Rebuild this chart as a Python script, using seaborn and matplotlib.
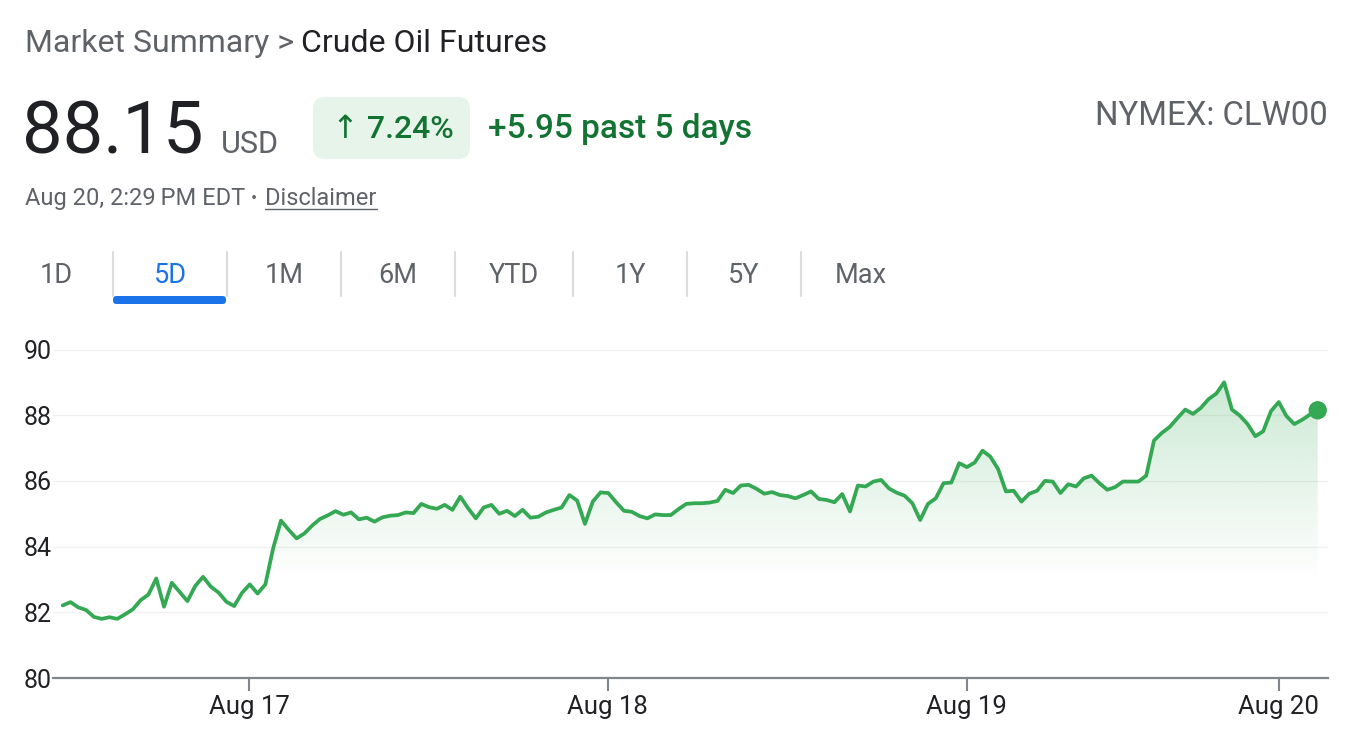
import numpy as np
import pandas as pd
import matplotlib.pyplot as plt
import seaborn as sns
from matplotlib.patches import FancyBboxPatch, PathPatch

# Données (prix toutes les ~30 min, 5 jours)
prix = [
    82.21, 82.31, 82.15, 82.07, 81.86, 81.80, 81.85, 81.80, 81.94, 82.09,
    82.37, 82.54, 83.03, 82.17, 82.90, 82.62, 82.34, 82.80, 83.08, 82.78,
    82.60, 82.32, 82.19, 82.59, 82.85, 82.57, 82.85, 83.95, 84.79, 84.51,
    84.25, 84.40, 84.64, 84.84, 84.95, 85.08, 84.97, 85.04, 84.83, 84.88,
    84.76, 84.89, 84.94, 84.96, 85.04, 85.02, 85.30, 85.20, 85.15, 85.27,
    85.12, 85.52, 85.17, 84.86, 85.19, 85.27, 85.00, 85.09, 84.93, 85.12,
    84.88, 84.91, 85.04, 85.12, 85.19, 85.57, 85.40, 84.69, 85.37, 85.65,
    85.63, 85.35, 85.09, 85.06, 84.93, 84.86, 84.98, 84.96, 84.96, 85.14,
    85.30, 85.32, 85.32, 85.34, 85.39, 85.73, 85.63, 85.86, 85.88, 85.76,
    85.61, 85.66, 85.57, 85.54, 85.47, 85.57, 85.68, 85.45, 85.42, 85.35,
    85.60, 85.07, 85.86, 85.83, 85.98, 86.03, 85.77, 85.64, 85.55, 85.32,
    84.81, 85.30, 85.47, 85.93, 85.95, 86.54, 86.42, 86.56, 86.92, 86.74,
    86.36, 85.68, 85.70, 85.37, 85.61, 85.70, 86.00, 85.98, 85.63, 85.90,
    85.83, 86.08, 86.16, 85.93, 85.73, 85.81, 85.98, 85.98, 85.98, 86.16,
    87.23, 87.46, 87.64, 87.91, 88.17, 88.04, 88.22, 88.49, 88.66, 89.00,
    88.17, 87.99, 87.73, 87.36, 87.51, 88.12, 88.40, 87.97, 87.73, 87.86,
    88.02, 88.15,
]
tick_pos = [23.9, 69.9, 116.0, 156.0]
tick_labels = ["Aug 17", "Aug 18", "Aug 19", "Aug 20"]
y_ticks = [80, 82, 84, 86, 88, 90]
onglets = ["1D", "5D", "1M", "6M", "YTD", "1Y", "5Y", "Max"]

df = pd.DataFrame({"t": np.arange(len(prix)), "prix": prix})

VERT = "#34a853"
VERT_FONCE = "#137333"
GRIS = "#5f6368"
NOIR = "#202124"
W, H = 1358, 742

sns.set_theme(style="white")
plt.rcParams["font.family"] = ["Roboto", "DejaVu Sans"]

fig = plt.figure(figsize=(W / 100, H / 100), dpi=100)
ax = fig.add_axes([53 / W, (H - 678) / H, 1275 / W, 328.5 / H])

# Courbe principale
sns.lineplot(data=df, x="t", y="prix", color=VERT, linewidth=2.7, ax=ax, zorder=3)
sns.scatterplot(x=[df.t.iloc[-1]], y=[df.prix.iloc[-1]], s=175, color=VERT,
                edgecolor="none", ax=ax, zorder=4, clip_on=False)

# Remplissage dégradé sous la courbe
ax.set_xlim(-1.244, 162.32)
ax.set_ylim(80, 90)
poly = ax.fill_between(df.t, df.prix, 80, color="none")
clip = PathPatch(poly.get_paths()[0], transform=ax.transData,
                 facecolor="none", edgecolor="none")
ax.add_patch(clip)
yy = np.linspace(90, 80, 300)
alpha = np.clip((yy - 83) / 6, 0, 1) * 0.25
img = np.zeros((300, 2, 4))
img[..., :3] = np.array([0x34, 0xa8, 0x53]) / 255
img[..., 3] = alpha[:, None]
im = ax.imshow(img, extent=[0, len(prix) - 1, 80, 90], aspect="auto", zorder=2,
               interpolation="bilinear")
im.set_clip_path(clip)
ax.set_xlim(-1.244, 162.32)
ax.set_ylim(80, 90)

# Axes et grille
ax.set_yticks(y_ticks)
ax.set_xticks(tick_pos)
ax.set_xticklabels(tick_labels)
ax.set_xlabel("")
ax.set_ylabel("")
for y in y_ticks[1:]:
    ax.axhline(y, color="#f0f0f0", linewidth=1, zorder=1)
for s in ["top", "right", "left"]:
    ax.spines[s].set_visible(False)
ax.spines["bottom"].set_color("#80868b")
ax.spines["bottom"].set_linewidth(1.6)
ax.tick_params(axis="x", length=9, width=1.5, color="#80868b", pad=3,
               labelsize=18.5, labelcolor=NOIR, bottom=True)
ax.tick_params(axis="y", length=0, pad=1, labelsize=18, labelcolor=NOIR)

# En-tête (coordonnées en pixels)
hd = fig.add_axes([0, 0, 1, 1], zorder=-1)
hd.set_xlim(0, W)
hd.set_ylim(H, 0)
hd.axis("off")

hd.text(25, 52, "Market Summary >", fontsize=23, color=GRIS, va="baseline")
hd.text(301, 52, "Crude Oil Futures", fontsize=23, color=NOIR, va="baseline")
hd.text(22, 153, "88.15", fontsize=52, color=NOIR, va="baseline")
hd.text(221, 153, "USD", fontsize=22, color=GRIS, va="baseline")
hd.add_patch(FancyBboxPatch((313, 97), 157, 62, boxstyle="round,pad=0,rounding_size=12",
                            facecolor="#e6f4ea", edgecolor="none"))
hd.text(393, 138, "\u2191 7.24%", fontsize=23, color=VERT_FONCE, va="baseline",
        ha="center", fontweight="medium")
hd.text(488, 138, "+5.95 past 5 days", fontsize=24, color=VERT_FONCE, va="baseline",
        fontweight="medium")
hd.text(1328, 125, "NYMEX: CLW00", fontsize=23.7, color=GRIS, va="baseline", ha="right")
hd.text(25, 205, "Aug 20, 2:29\u2009PM EDT", fontsize=17, color=GRIS, va="baseline")
hd.text(254, 204, "\u2022", fontsize=13, color=GRIS, va="baseline", ha="center")
hd.text(265, 205, "Disclaimer", fontsize=17, color=GRIS, va="baseline")
hd.plot([265, 377], [209, 209], color=GRIS, linewidth=1)

# Onglets de période
centres = [56, 170, 284, 398, 514, 630, 744, 861]
for lab, cx in zip(onglets, centres):
    hd.text(cx, 283, lab, fontsize=19.5, ha="center", va="baseline",
            color="#1a73e8" if lab == "5D" else GRIS)
for xd in [113, 227, 341, 455, 573, 687, 801]:
    hd.plot([xd, xd], [252, 296], color="#dadce0", linewidth=1.5)
hd.add_patch(FancyBboxPatch((113, 296), 113, 8, boxstyle="round,pad=0,rounding_size=3.5",
                            facecolor="#1a73e8", edgecolor="none"))

fig.savefig("out.png", dpi=100)
